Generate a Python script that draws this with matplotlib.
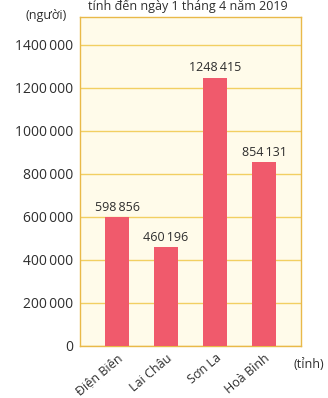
import matplotlib.pyplot as plt
import matplotlib.ticker as mticker

# population by province, 1 April 2019
provinces = ['Điện Biên', 'Lai Châu', 'Sơn La', 'Hoà Bình']
population = [598856, 460196, 1248415, 854131]
yticks = [0, 200000, 400000, 600000, 800000, 1000000, 1200000, 1400000]

plt.rcParams['font.family'] = ['Open Sans', 'DejaVu Sans']
text_col = '#2e2e2e'
bar_col = '#f05a6c'
gold = '#e9b949'

def fmt(v):
    # last three digits split off by a thin space
    v = int(v)
    if v < 1000:
        return str(v)
    return f'{v // 1000}\u2009{v % 1000:03d}'

fig = plt.figure(figsize=(3.28, 3.98), dpi=100)
ax = fig.add_axes([0.2439, 0.1307, 0.674, 0.8266])
ax.set_facecolor('#fffbea')

x = range(len(provinces))
ax.bar(x, population, width=0.49, color=bar_col, zorder=3)
for xi, v in zip(x, population):
    ax.text(xi, v + 15000, fmt(v), ha='center', va='bottom',
            fontsize=9, color=text_col, zorder=4)

ax.set_xlim(-0.755, 3.755)
ax.set_ylim(0, 1530000)
ax.set_yticks(yticks)
ax.yaxis.set_major_formatter(mticker.FuncFormatter(lambda v, p: fmt(v)))
ax.grid(axis='y', color='#f2cf62', linewidth=1.0, zorder=1)
ax.tick_params(axis='y', length=0, pad=5, labelsize=10, labelcolor=text_col)
ax.set_xticks(list(x))
ax.set_xticklabels(provinces, rotation=40, ha='right', va='top',
                   rotation_mode='anchor', fontsize=9, color=text_col)
ax.tick_params(axis='x', length=0, pad=4)
for s in ax.spines.values():
    s.set_color(gold)
    s.set_linewidth(1.0)

fig.text(188 / 328, 1 - 6 / 398, 'tỉnh đến ngày 1 tháng 4 năm 2019',
         ha='center', va='center', fontsize=9, color=text_col)
fig.text(46 / 328, 1 - 15 / 398, '(người)', ha='center', va='center',
         fontsize=9, color=text_col)
fig.text(309 / 328, 1 - 365 / 398, '(tỉnh)', ha='center', va='center',
         fontsize=9, color=text_col)

fig.savefig('out.png', dpi=100, facecolor='white')
